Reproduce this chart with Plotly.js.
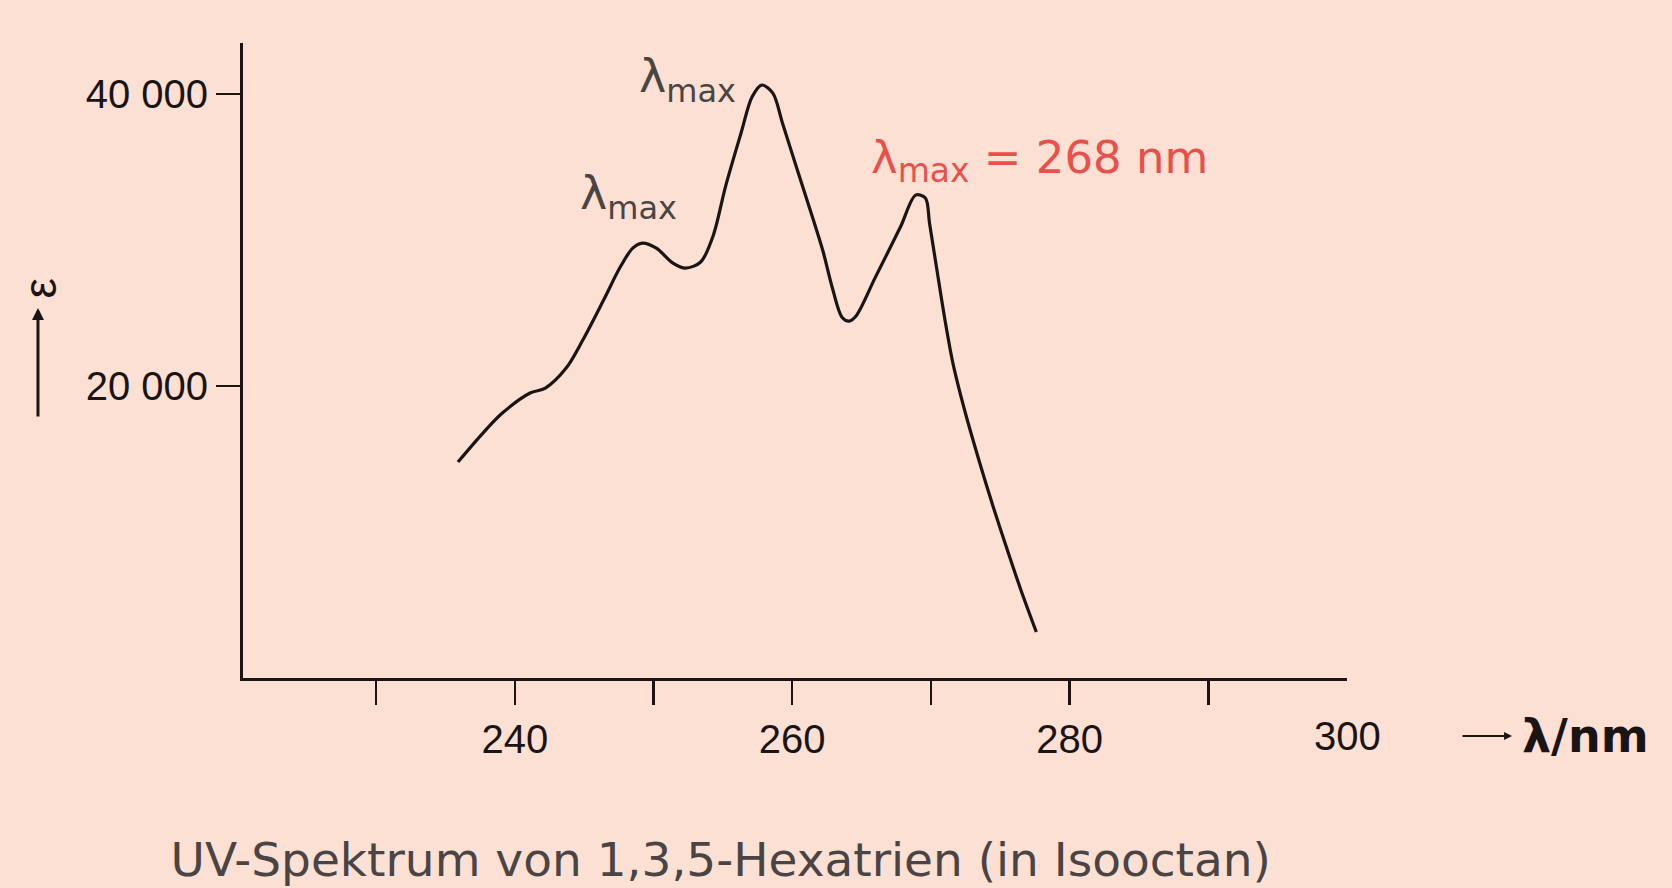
<!DOCTYPE html>
<html>
<head>
<meta charset="utf-8">
<script src="https://cdn.plot.ly/plotly-3.0.1.min.js"></script>
<style>
  html, body { margin: 0; padding: 0; background: #fce0d3; }
  #chart { width: 1672px; height: 888px; }
</style>
</head>
<body>
<div id="chart"></div>
<script>
// Wavelength (nm)
const wavelength = [235.9, 237.7, 239.1, 241.1, 242.2, 243.7, 244.9, 246.4, 247.6, 248.5, 249.2, 250.2, 251.4, 252.3, 253.4, 254.3, 255.2, 256.3, 257.1, 257.8, 258.6, 259.3, 260.3, 261.3, 262.2, 262.9, 263.6, 264.1, 264.6, 266.0, 267.8, 268.9, 269.6, 269.9, 270.4, 271.0, 271.6, 272.5, 273.5, 274.5, 275.5, 276.5, 277.6];
// Molar extinction coefficient epsilon
const epsilon = [14800, 16780, 18150, 19520, 19860, 21230, 23150, 25890, 28150, 29450, 29790, 29450, 28420, 28080, 28500, 30300, 33700, 37300, 39800, 40620, 40070, 38010, 35000, 32050, 29300, 26700, 24700, 24450, 24800, 27460, 30890, 33080, 32880, 31160, 28150, 24600, 21500, 18100, 14800, 11700, 8800, 6000, 3150];

const xTickVals = [230, 240, 250, 260, 270, 280, 290];
const xTickText = ['', '240', '', '260', '', '280', ''];
const yTickVals = [20000, 40000];
const yTickText = ['20 000', '40 000'];

const peakLabel = 'λ<sub><span style="font-size:32px">max</span></sub>';
const mainPeakLabel = 'λ<sub><span style="font-size:33px">max</span></sub> = 268 nm';
const xAxisEndLabel = '300';
const xAxisUnit = '<b>λ/nm</b>';
const yAxisSymbol = 'ε';
const chartTitle = 'UV-Spektrum von 1,3,5-Hexatrien (in Isooctan)';

const bg = '#fce0d3';
const ink = '#1a1414';
const grey = '#4a4444';
const red = '#e8514b';
const font = 'Liberation Sans, Arial, sans-serif';
const wide = 'DejaVu Sans, Verdana, sans-serif';

const trace = {
  x: wavelength,
  y: epsilon,
  type: 'scatter',
  mode: 'lines',
  line: { color: ink, width: 3.2, shape: 'spline', smoothing: 0.9 },
  hoverinfo: 'skip'
};

const layout = {
  width: 1672,
  height: 888,
  paper_bgcolor: bg,
  plot_bgcolor: bg,
  showlegend: false,
  margin: { l: 243, r: 325, t: 43, b: 210, pad: 0 },
  title: {
    text: chartTitle,
    font: { family: wide, size: 47, color: grey },
    xref: 'container', yref: 'container',
    x: 0.102, xanchor: 'left',
    y: 0.032, yanchor: 'middle'
  },
  xaxis: {
    range: [220.4, 300],
    tickmode: 'array',
    tickvals: xTickVals,
    ticktext: xTickText,
    ticks: 'outside',
    ticklen: 24,
    tickwidth: 2.5,
    tickcolor: ink,
    showline: true,
    linecolor: ink,
    linewidth: 3,
    showgrid: false,
    zeroline: false,
    tickfont: { family: font, size: 40, color: ink },
    fixedrange: true
  },
  yaxis: {
    range: [0, 43500],
    tickmode: 'array',
    tickvals: yTickVals,
    ticktext: yTickText,
    ticks: 'outside',
    ticklen: 24,
    tickwidth: 2.5,
    tickcolor: ink,
    showline: true,
    linecolor: ink,
    linewidth: 3,
    showgrid: false,
    zeroline: false,
    tickfont: { family: font, size: 40, color: ink },
    fixedrange: true
  },
  annotations: [
    { text: peakLabel, xref: 'paper', yref: 'paper', x: 0.303, y: 0.758, xanchor: 'left', yanchor: 'middle',
      showarrow: false, font: { family: wide, size: 46, color: grey } },
    { text: peakLabel, xref: 'paper', yref: 'paper', x: 0.3566, y: 0.943, xanchor: 'left', yanchor: 'middle',
      showarrow: false, font: { family: wide, size: 46, color: grey } },
    { text: mainPeakLabel, xref: 'paper', yref: 'paper', x: 0.5668, y: 0.815, xanchor: 'left', yanchor: 'middle',
      showarrow: false, font: { family: wide, size: 45, color: red } },
    { text: xAxisEndLabel, xref: 'paper', yref: 'paper', x: 1.0, y: -0.0913, xanchor: 'center', yanchor: 'middle',
      showarrow: false, font: { family: font, size: 40, color: ink } },
    { text: '', xref: 'paper', yref: 'paper', x: 1.1495, y: -0.0913, ax: 1.1033, ay: -0.0913,
      axref: 'paper', ayref: 'paper', showarrow: true, arrowhead: 2, arrowsize: 0.8, arrowwidth: 2, arrowcolor: ink },
    { text: xAxisUnit, xref: 'paper', yref: 'paper', x: 1.1567, y: -0.0913, xanchor: 'left', yanchor: 'middle',
      showarrow: false, font: { family: wide, size: 46, color: ink } },
    { text: yAxisSymbol, xref: 'paper', yref: 'paper', x: -0.1835, y: 0.614, xanchor: 'center', yanchor: 'middle',
      textangle: -90, showarrow: false, font: { family: font, size: 46, color: ink } },
    { text: '', xref: 'paper', yref: 'paper', x: -0.1857, y: 0.5827, ax: -0.1857, ay: 0.4094,
      axref: 'paper', ayref: 'paper', showarrow: true, arrowhead: 2, arrowsize: 0.8, arrowwidth: 3, arrowcolor: ink }
  ]
};

Plotly.newPlot('chart', [trace], layout, { displayModeBar: false, staticPlot: true });
</script>
</body>
</html>
